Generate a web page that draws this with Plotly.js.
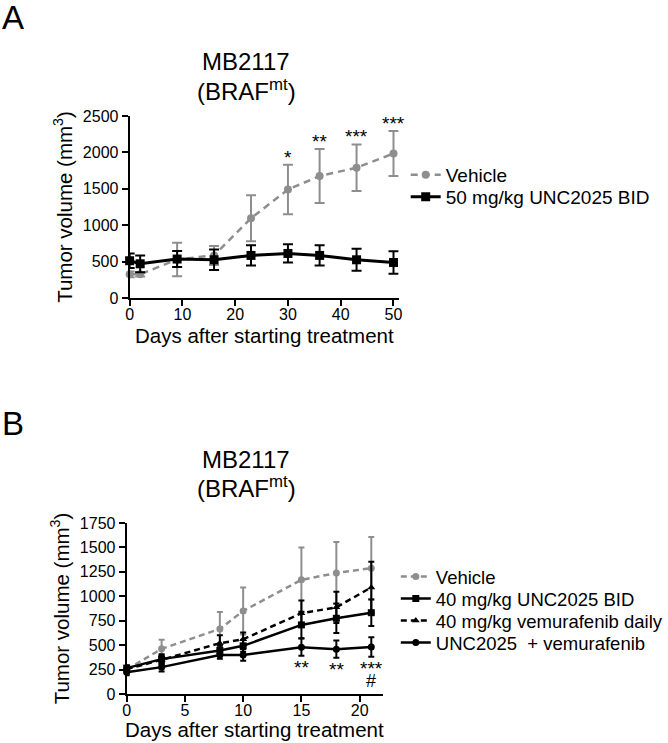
<!DOCTYPE html>
<html><head><meta charset="utf-8">
<script src="https://cdn.plot.ly/plotly-3.0.1.min.js"></script>
<style>html,body{margin:0;padding:0;background:#fff}#chart{width:668px;height:743px}</style>
</head><body><div id="chart"></div>
<script>
// ---------- Panel A data ----------
const daysA = [0, 2, 9, 16, 23, 30, 36, 43, 50];
const vehicleA = [325, 325, 530, 585, 1095, 1490, 1675, 1790, 1985];
const vehicleAErr = [40, 30, 230, 130, 315, 340, 370, 320, 310];
const unc50A = [512, 470, 535, 525, 585, 612, 585, 525, 488];
const unc50AErr = [100, 115, 110, 140, 140, 125, 140, 150, 155];
const sigDaysA = [30, 36, 43, 50];
const sigLabelsA = ['*', '**', '***', '***'];

// ---------- Panel B data ----------
const daysB = [0, 3, 8, 10, 15, 18, 21];
const vehicleB = [250, 462, 666, 850, 1168, 1238, 1288];
const vehicleBErr = [20, 92, 172, 241, 330, 317, 318];
const unc40B = [265, 357, 445, 493, 707, 775, 832];
const unc40BErr = [30, 50, 50, 60, 136, 150, 136];
const vemB = [255, 350, 520, 560, 826, 887, 1091];
const vemBErr = [25, 45, 80, 70, 130, 160, 262];
const comboB = [222, 275, 400, 400, 479, 459, 481];
const comboBErr = [30, 45, 40, 60, 88, 88, 100];
const sigDaysB = [15, 18, 21];
const sigLabelsB = ['**', '**', '***'];
const hashDaysB = [21];

const seriesNamesA = ['Vehicle', '50 mg/kg UNC2025 BID'];
const seriesNamesB = ['Vehicle', '40 mg/kg UNC2025 BID', '40 mg/kg vemurafenib daily', 'UNC2025 \u00a0+ vemurafenib'];
const xTitle = 'Days after starting treatment';
const yTitle = 'Tumor volume (mm<sup>3</sup>)';

// ---------- helpers ----------
const W = 668, H = 743;
const px = x => x / W;
const py = y => 1 - y / H;
const FONT = 'Liberation Sans, Arial, sans-serif';
const GRAY = '#8e8e8e';
const BLACK = '#000000';

function trace(x, y, err, name, color, dash, symbol, msize, lw, xa, ya, legend, cap) {
  return {
    type: 'scatter', mode: 'lines+markers', x: x, y: y, name: name,
    xaxis: xa, yaxis: ya, legend: legend, cliponaxis: false,
    line: {color: color, width: lw, dash: dash},
    marker: {symbol: symbol, size: msize, color: color},
    error_y: {type: 'data', array: err, visible: true, color: color, thickness: 2, width: cap}
  };
}

const data = [
  trace(daysA, vehicleA, vehicleAErr, seriesNamesA[0], GRAY, '7px,5px', 'circle', 8, 2.5, 'x', 'y', 'legend', 5),
  trace(daysA, unc50A, unc50AErr, seriesNamesA[1], BLACK, 'solid', 'square', 9, 3, 'x', 'y', 'legend2', 5),
  trace(daysB, vehicleB, vehicleBErr, seriesNamesB[0], GRAY, '6px,4px', 'circle', 7, 2.5, 'x2', 'y2', 'legend3', 3),
  trace(daysB, unc40B, unc40BErr, seriesNamesB[1], BLACK, 'solid', 'square', 7, 2.5, 'x2', 'y2', 'legend4', 3),
  trace(daysB, vemB, vemBErr, seriesNamesB[2], BLACK, '6px,4px', 'triangle-up', 7, 2.5, 'x2', 'y2', 'legend5', 3),
  trace(daysB, comboB, comboBErr, seriesNamesB[3], BLACK, 'solid', 'circle', 7, 2.5, 'x2', 'y2', 'legend6', 3)
];

function axisBase() {
  return {
    showline: true, linecolor: BLACK, linewidth: 2, mirror: false,
    ticks: 'outside', ticklen: 6, tickwidth: 2, tickcolor: BLACK,
    showgrid: false, zeroline: false, automargin: false,
    tickfont: {family: FONT, size: 16, color: BLACK}
  };
}

const TITLE_FONT = {family: FONT, size: 20.5, color: BLACK};
const xA = Object.assign(axisBase(), {
  domain: [px(131), px(403)], range: [0, 51], anchor: 'y',
  tickvals: [0, 10, 20, 30, 40, 50], ticklabelstandoff: -5
});
const yA = Object.assign(axisBase(), {
  domain: [py(298), py(116)], range: [0, 2500], anchor: 'x',
  tickvals: [0, 500, 1000, 1500, 2000, 2500],
  title: {text: yTitle, font: TITLE_FONT, standoff: 5}
});
const xB = Object.assign(axisBase(), {
  domain: [px(128), px(387)], range: [0, 22], anchor: 'y2',
  tickvals: [0, 5, 10, 15, 20], ticklabelstandoff: -5
});
const yB = Object.assign(axisBase(), {
  domain: [py(694), py(523)], range: [0, 1750], anchor: 'x2',
  tickvals: [0, 250, 500, 750, 1000, 1250, 1500, 1750],
  title: {text: yTitle, font: TITLE_FONT, standoff: 5}
});

function leg(xp, yp, size) {
  return {x: px(xp), y: py(yp), xanchor: 'left', yanchor: 'middle', bgcolor: 'rgba(0,0,0,0)',
    borderwidth: 0, font: {family: FONT, size: size, color: BLACK}};
}

function txt(text, xp, yp, size, xanchor) {
  return {text: text, xref: 'paper', yref: 'paper', x: px(xp), y: py(yp), showarrow: false,
    xanchor: xanchor || 'center', yanchor: 'middle', font: {family: FONT, size: size, color: BLACK}};
}

const annotations = [
  txt('A', 0, 17, 33, 'left'),
  txt('B', 0, 423, 33, 'left'),
  txt('MB2117', 249, 62, 24),
  txt('(BRAF<sup>mt</sup>)', 249, 90, 24),
  txt('MB2117', 249, 459, 24),
  txt('(BRAF<sup>mt</sup>)', 249, 487, 24),
  txt(xTitle, 267, 335, 20.5),
  txt(xTitle, 257, 729, 20.5)
];
sigDaysA.forEach((d, i) => {
  const k = daysA.indexOf(d);
  annotations.push({text: sigLabelsA[i], xref: 'x', yref: 'y', x: d, y: vehicleA[k] + vehicleAErr[k],
    showarrow: false, xanchor: 'center', yanchor: 'bottom', yshift: -5,
    font: {family: FONT, size: 19, color: BLACK}});
});
sigDaysB.forEach((d, i) => {
  const k = daysB.indexOf(d);
  annotations.push({text: sigLabelsB[i], xref: 'x2', yref: 'y2', x: d, y: comboB[k] - comboBErr[k],
    showarrow: false, xanchor: 'center', yanchor: 'top', yshift: 1,
    font: {family: FONT, size: 19, color: BLACK}});
});
hashDaysB.forEach(d => {
  const k = daysB.indexOf(d);
  annotations.push({text: '#', xref: 'x2', yref: 'y2', x: d, y: comboB[k] - comboBErr[k],
    showarrow: false, xanchor: 'center', yanchor: 'top', yshift: -12,
    font: {family: FONT, size: 18, color: BLACK}});
});

const layout = {
  width: W, height: H, margin: {l: 0, r: 0, t: 0, b: 0},
  paper_bgcolor: '#ffffff', plot_bgcolor: '#ffffff',
  font: {family: FONT, color: BLACK},
  showlegend: true,
  xaxis: xA, yaxis: yA, xaxis2: xB, yaxis2: yB,
  legend: leg(410, 175, 19),
  legend2: leg(410, 197, 19),
  legend3: leg(400, 577, 18.5),
  legend4: leg(400, 599, 18.5),
  legend5: leg(400, 621, 18.5),
  legend6: leg(400, 643, 18.5),
  annotations: annotations
};

Plotly.newPlot('chart', data, layout, {staticPlot: true, displayModeBar: false});
</script>
</body></html>
